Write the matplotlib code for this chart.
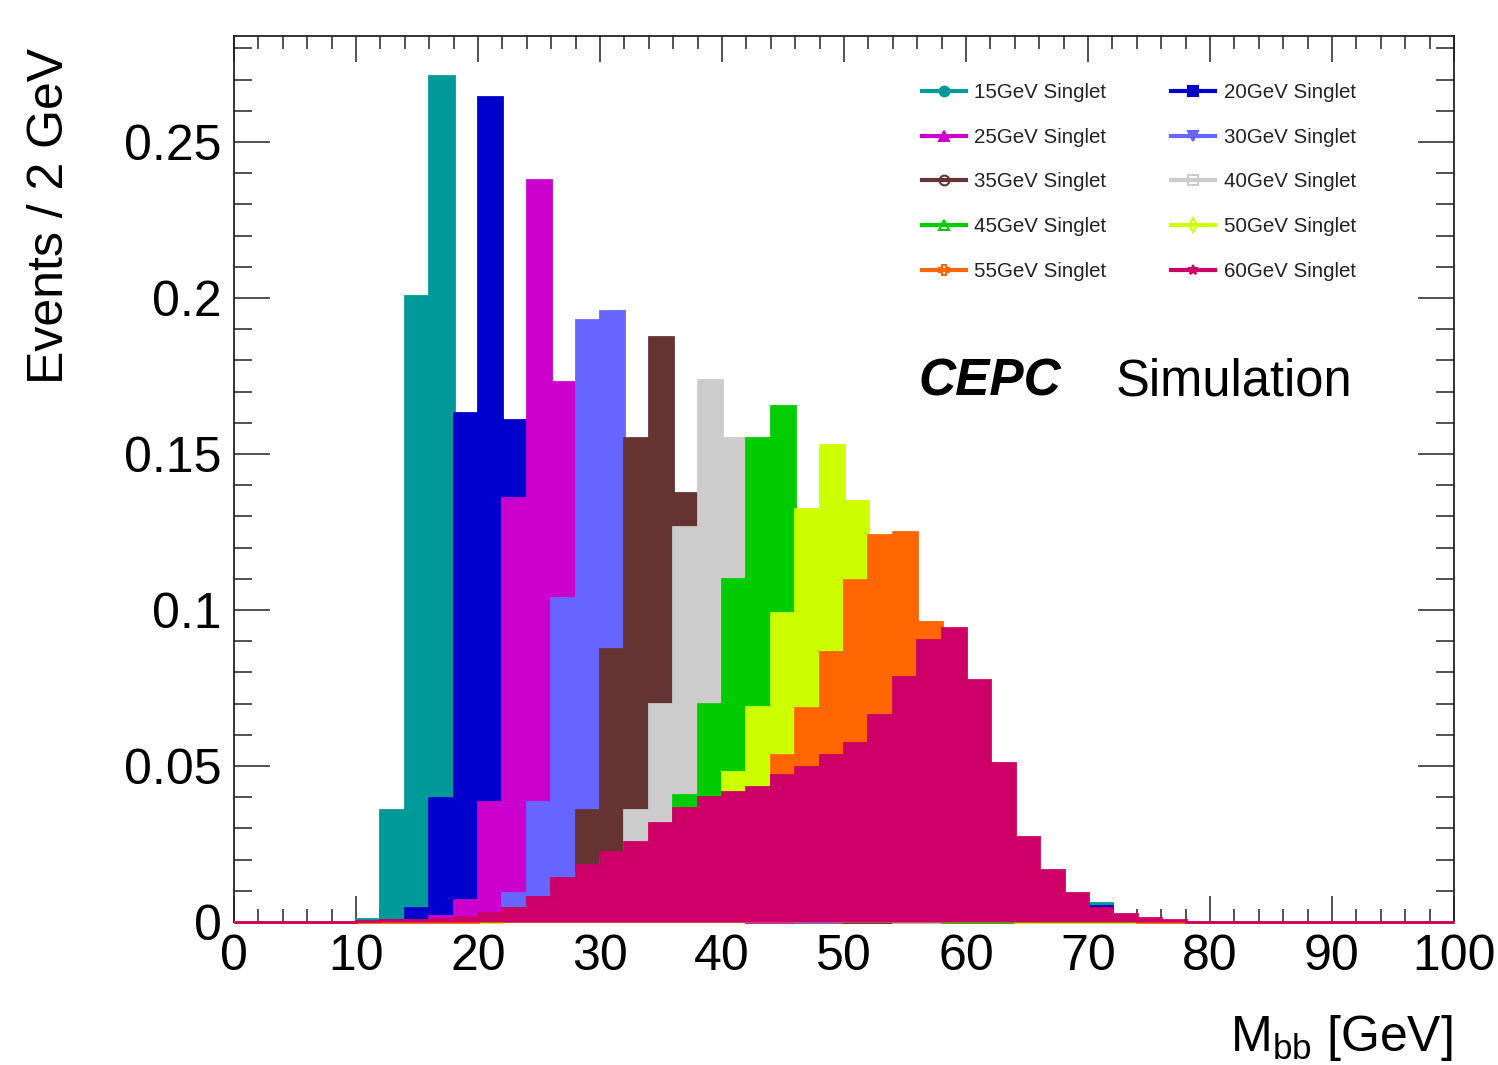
import matplotlib
matplotlib.use("Agg")
import matplotlib.pyplot as plt
import numpy as np
from matplotlib.lines import Line2D
from matplotlib.ticker import MultipleLocator, FuncFormatter

plt.rcParams["font.family"] = ["Liberation Sans", "DejaVu Sans"]
plt.rcParams["mathtext.fontset"] = "custom"
plt.rcParams["mathtext.rm"] = "Liberation Sans"

# binning: 50 bins of 2 GeV between 0 and 100
bin_edges = np.arange(0, 102, 2)

# per-sample normalised M_bb distributions, listed from the first non-empty bin
start_15 = 10
h_15 = [0.001, 0.0359, 0.2005, 0.2712, 0.145, 0.1, 0.06, 0.035, 0.018, 0.009,
        0.005, 0.003, 0.002, 0.002, 0.002, 0.002, 0.002, 0.002, 0.002, 0.002,
        0.002, 0.002, 0.002, 0.002, 0.002, 0.002, 0.002, 0.002, 0.002, 0.002,
        0.006, 0.001]
start_20 = 12
h_20 = [0.0005, 0.0045, 0.0397, 0.163, 0.2645, 0.161, 0.15, 0.08, 0.04, 0.018,
        0.008, 0.004, 0.0015, 0.0015, 0.0015, 0.0015, 0.0015, 0.0015, 0.0015,
        0.0015, 0.0015, 0.0015, 0.0015, 0.0015, 0.0015, 0.0015, 0.0015, 0.0015,
        0.0015, 0.005, 0.001]
start_25 = 16
h_25 = [0.002, 0.007, 0.0385, 0.136, 0.238, 0.173, 0.15, 0.1, 0.05, 0.022,
        0.009, 0.004, 0.002]
start_30 = 20
h_30 = [0.002, 0.0093, 0.0385, 0.104, 0.193, 0.196, 0.145, 0.12, 0.07, 0.035,
        0.015, 0.006, 0.002]
start_35 = 22
h_35 = [0.003, 0.008, 0.012, 0.0359, 0.0875, 0.155, 0.1875, 0.1375, 0.12, 0.08,
        0.045, 0.02, 0.008, 0.003]
start_40 = 22
h_40 = [0.002, 0.005, 0.01, 0.016, 0.02, 0.0359, 0.0699, 0.1266, 0.1737, 0.155,
        0.14, 0.1, 0.06, 0.03, 0.012, 0.005]
start_45 = 22
h_45 = [0.002, 0.004, 0.007, 0.01, 0.014, 0.019, 0.025, 0.0407, 0.070, 0.110,
        0.155, 0.1655, 0.128, 0.1, 0.06, 0.03, 0.012, 0.004]
start_50 = 22
h_50 = [0.001, 0.003, 0.005, 0.008, 0.012, 0.016, 0.021, 0.027, 0.034, 0.048,
        0.069, 0.099, 0.1324, 0.153, 0.135, 0.1, 0.06, 0.03, 0.012, 0.005, 0.002]
start_55 = 20
h_55 = [0.001, 0.002, 0.004, 0.007, 0.010, 0.013, 0.016, 0.02, 0.024, 0.028,
        0.033, 0.040, 0.0535, 0.0685, 0.0866, 0.1096, 0.124, 0.125, 0.0962, 0.07,
        0.04, 0.02, 0.008, 0.004, 0.002, 0.001, 0.0005]
start_60 = 10
h_60 = [0.0003, 0.0005, 0.0008, 0.001, 0.0015, 0.0029, 0.0045, 0.008, 0.014,
        0.0183, 0.0224, 0.0256, 0.0317, 0.0365, 0.040, 0.0417, 0.0433, 0.047,
        0.0497, 0.0535, 0.0573, 0.0663, 0.0786, 0.0904, 0.0942, 0.0776, 0.051,
        0.0272, 0.0167, 0.0093, 0.0045, 0.0026, 0.0013, 0.0005]

labels = ["15GeV Singlet", "20GeV Singlet", "25GeV Singlet", "30GeV Singlet",
          "35GeV Singlet", "40GeV Singlet", "45GeV Singlet", "50GeV Singlet",
          "55GeV Singlet", "60GeV Singlet"]
colors = ["#009999", "#0000cc", "#cc00cc", "#6666ff", "#663333",
          "#cccccc", "#00cc00", "#ccff00", "#ff6600", "#cc0066"]
markers = ["o", "s", "^", "v", "o", "s", "^", "d", "P", "*"]
filled = [True, True, True, True, False, False, False, False, False, True]

samples = [(start_15, h_15), (start_20, h_20), (start_25, h_25), (start_30, h_30),
           (start_35, h_35), (start_40, h_40), (start_45, h_45), (start_50, h_50),
           (start_55, h_55), (start_60, h_60)]


def full_hist(start, vals):
    h = np.zeros(len(bin_edges) - 1)
    i = start // 2
    h[i:i + len(vals)] = vals
    return h


fig = plt.figure(figsize=(14.98, 10.65), dpi=100)
ax = fig.add_axes([234 / 1498, 143 / 1065, 1220 / 1498, 886 / 1065])

# later samples are drawn on top, like the ROOT "same" overlay
for k, (start, vals) in enumerate(samples):
    ax.stairs(full_hist(start, vals), bin_edges, fill=True, facecolor=colors[k],
              edgecolor=colors[k], linewidth=2, zorder=3 + k, clip_on=False)

ax.set_xlim(0, 100)
ax.set_ylim(0, 0.284)
ax.xaxis.set_major_locator(MultipleLocator(10))
ax.xaxis.set_minor_locator(MultipleLocator(2))
ax.yaxis.set_major_locator(MultipleLocator(0.05))
ax.yaxis.set_minor_locator(MultipleLocator(0.01))
ax.yaxis.set_major_formatter(FuncFormatter(lambda v, p: "%g" % round(v, 3)))

ax.tick_params(axis="both", which="both", direction="in", top=True, right=True,
               width=1.1, color="#222222", labelsize=36, pad=9)
ax.tick_params(axis="x", which="major", length=19)
ax.tick_params(axis="x", which="minor", length=9.5)
ax.tick_params(axis="y", which="major", length=26)
ax.tick_params(axis="y", which="minor", length=13)
for s in ax.spines.values():
    s.set_linewidth(1.3)
    s.set_color("#222222")
    s.set_zorder(2)

fig.text(50 / 1498, 1 - 48 / 1065, "Events / 2 GeV", rotation=90,
         ha="center", va="top", fontsize=36)
fig.text(1453 / 1498, 1 - 1051 / 1065, r"M$_{\mathrm{bb}}$ [GeV]",
         ha="right", va="baseline", fontsize=36)

fig.text(918 / 1498, 1 - 395 / 1065, "CEPC", fontsize=37, fontweight="bold",
         fontstyle="italic", va="baseline")
fig.text(1116 / 1498, 1 - 395 / 1065, "Simulation", fontsize=36.5, va="baseline")

handles = []
for k in range(len(labels)):
    handles.append(Line2D([], [], color=colors[k], lw=3, marker=markers[k],
                          markersize=7,
                          markerfacecolor=colors[k] if filled[k] else "none",
                          markeredgecolor=colors[k], markeredgewidth=1.5))
order = [0, 2, 4, 6, 8, 1, 3, 5, 7, 9]
ax.legend([handles[i] for i in order], [labels[i] for i in order], ncol=2,
          loc="upper left", bbox_to_anchor=(922 / 1498, 1 - 83 / 1065),
          bbox_transform=fig.transFigure, frameon=False, fontsize=14.8,
          handlelength=2.15, handletextpad=0.4, columnspacing=3.15,
          labelspacing=1.25, borderpad=0, borderaxespad=0, labelcolor="#222222")

fig.savefig("out.png", dpi=100)
